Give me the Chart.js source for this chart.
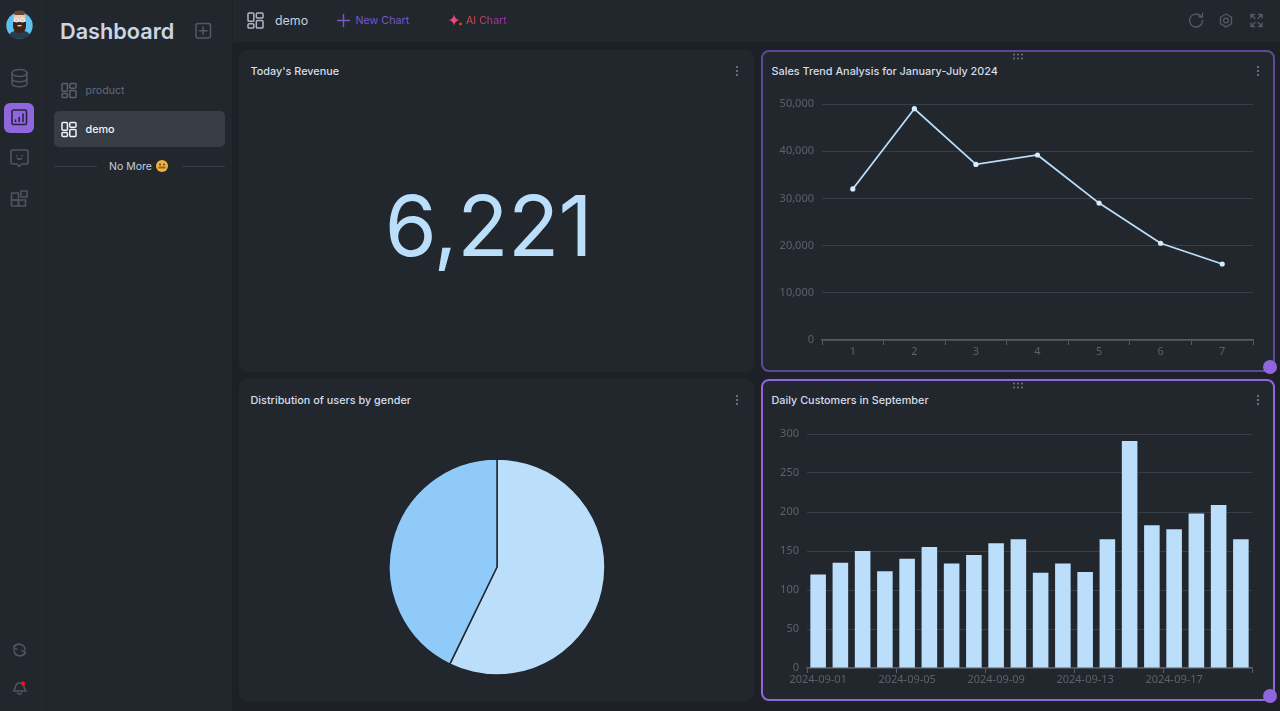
<!DOCTYPE html>
<html>
<head>
<meta charset="utf-8">
<title>Dashboard</title>
<script src="https://cdn.jsdelivr.net/npm/chart.js@4"></script>
<style>
html, body { margin: 0; height: 100%; background: #1d2127; overflow: hidden; font-family: Inter, "Noto Sans", sans-serif; }
.abs { position: absolute; }
.txt { position: absolute; white-space: nowrap; line-height: 1; }
.panel { position: absolute; background: #22272e; }
.card { position: absolute; background: #22272e; border-radius: 8px; box-sizing: border-box; }
.card.soft { border: 2px solid #5b4a93; }
.card.active { border: 2px solid #8f66dd; }
.title { position: absolute; font-size: 10.85px; font-weight: 500; color: #d5deea; white-space: nowrap; line-height: 1; }
.dot { position: absolute; width: 14px; height: 14px; border-radius: 50%; background: #8f66dd; }
canvas { position: absolute; }
svg { position: absolute; overflow: visible; }
</style>
</head>
<body>
<div class="panel" style="left:0;top:0;width:46px;height:711px"></div>
<div class="panel" style="left:47px;top:0;width:185px;height:711px"></div>
<div class="panel" style="left:233px;top:0;width:1047px;height:42px"></div>

<div class="abs" style="left:4px;top:103px;width:30px;height:30px;background:#8f66dd;border-radius:6px"></div>
<div class="abs" style="left:54px;top:111px;width:171px;height:36px;background:#373c45;border-radius:5px"></div>
<div class="abs" style="left:54px;top:165.5px;width:43px;height:1px;background:#373c45"></div>
<div class="abs" style="left:182px;top:165.5px;width:43px;height:1px;background:#373c45"></div>

<div class="txt" style="left:60px;top:20.5px;font-size:21.7px;font-weight:600;color:#ccd6e3">Dashboard</div>
<div class="txt" style="left:85.5px;top:86px;font-size:10.6px;color:#5f6b7c">product</div>
<div class="txt" style="left:85.5px;top:125px;font-size:10.8px;font-weight:500;color:#f2f4f7">demo</div>
<div class="txt" style="left:109px;top:162px;font-size:10.5px;color:#c4ced9">No More</div>
<div class="txt" style="left:275px;top:14.5px;font-size:12.4px;color:#c5d0dd">demo</div>
<div class="txt" style="left:355.5px;top:15.5px;font-size:10.7px;color:#7657cc">New Chart</div>
<div class="txt" style="left:466px;top:15.5px;font-size:10.6px;background:linear-gradient(90deg,#e2502f,#a326c4);-webkit-background-clip:text;background-clip:text;color:transparent">AI Chart</div>

<div class="card" style="left:239px;top:50px;width:515px;height:322px"></div>
<div class="card soft" style="left:761px;top:50px;width:514px;height:322px"></div>
<div class="card" style="left:239px;top:379px;width:515px;height:322px"></div>
<div class="card active" style="left:761px;top:379px;width:514px;height:322px"></div>

<div class="title" style="left:250.5px;top:65.5px">Today's Revenue</div>
<div class="title" style="left:771.5px;top:65.5px">Sales Trend Analysis for January-July 2024</div>
<div class="title" style="left:250.5px;top:394.5px">Distribution of users by gender</div>
<div class="title" style="left:771.5px;top:394.5px">Daily Customers in September</div>

<div class="txt" id="revenue" style="left:231px;width:515px;top:184px;text-align:center;font-size:84px;font-weight:400;letter-spacing:-0.5px;color:#bbdefb"></div>

<canvas id="lineCanvas" style="left:761px;top:80px"></canvas>
<canvas id="pieCanvas" style="left:386.5px;top:457px"></canvas>
<canvas id="barCanvas" style="left:761px;top:410px"></canvas>

<div class="dot" style="left:1263px;top:360px"></div>
<div class="dot" style="left:1263px;top:689px"></div>

<svg id="icons" width="1280" height="711" style="left:0;top:0" fill="none" stroke-linecap="round" stroke-linejoin="round"></svg>

<script>
const revenueToday = 6221;

const months = ["1", "2", "3", "4", "5", "6", "7"];
const monthlySales = [32000, 49000, 37200, 39200, 29000, 20500, 16100];
const salesTicks = [0, 10000, 20000, 30000, 40000, 50000];

const genders = ["Female", "Male"];
const genderShare = [57.2, 42.8];

const days = [
    "2024-09-01", "2024-09-02", "2024-09-03", "2024-09-04", "2024-09-05",
    "2024-09-06", "2024-09-07", "2024-09-08", "2024-09-09", "2024-09-10",
    "2024-09-11", "2024-09-12", "2024-09-13", "2024-09-14", "2024-09-15",
    "2024-09-16", "2024-09-17", "2024-09-18", "2024-09-19", "2024-09-20"
];
const dailyCustomers = [120, 135, 150, 124, 140, 155, 134, 145, 160, 165, 122, 134, 123, 165, 291, 183, 178, 198, 209, 165];

const lightBlue = "#bbdefb";
const midBlue = "#90caf9";
const gridColor = "#393d45";
const axisColor = "#585c63";
const labelColor = "#5d6168";
const tickFont = { family: "'Noto Sans'", size: 11 };

document.querySelector("#revenue").textContent = revenueToday.toLocaleString("en-US");

function sizeCanvas(el, w, h) {
    el.width = w;
    el.height = h;
    el.style.width = w + "px";
    el.style.height = h + "px";
}

// fixes the axis box so the plot lands where the reference has it
function fixBox(size) {
    return (scale) => {
        if (scale.isHorizontal()) {
            scale.height = size;
        } else {
            scale.width = size;
        }
        scale.paddingLeft = scale.paddingRight = scale.paddingTop = scale.paddingBottom = 0;
    };
}

const lineEl = document.getElementById("lineCanvas");
sizeCanvas(lineEl, 514, 290);
new Chart(lineEl, {
    type: "line",
    data: {
        labels: months,
        datasets: [{
            data: monthlySales,
            borderColor: lightBlue,
            backgroundColor: "#d6ecfd",
            borderWidth: 1.8,
            pointRadius: 2.6,
            pointBorderWidth: 0,
            tension: 0
        }]
    },
    options: {
        responsive: false,
        animation: false,
        layout: { padding: { left: 10, right: 22, top: 24, bottom: 6 } },
        plugins: { legend: { display: false }, tooltip: { enabled: false } },
        scales: {
            x: {
                offset: true,
                afterFit: fixBox(24),
                grid: { offset: true, drawOnChartArea: false, tickLength: 5, tickColor: axisColor, tickWidth: 1 },
                border: { color: axisColor, width: 1.5 },
                ticks: { color: labelColor, font: tickFont, padding: 0, maxRotation: 0 }
            },
            y: {
                min: 0,
                max: 50000,
                afterFit: fixBox(51),
                afterBuildTicks: (scale) => { scale.ticks = salesTicks.map(value => ({ value })); },
                grid: { color: gridColor, drawTicks: false, tickLength: 0 },
                border: { display: false },
                ticks: {
                    color: labelColor,
                    font: tickFont,
                    padding: 8,
                    callback: (value) => value.toLocaleString("en-US")
                }
            }
        }
    }
});

const pieEl = document.getElementById("pieCanvas");
sizeCanvas(pieEl, 220, 220);
new Chart(pieEl, {
    type: "pie",
    data: {
        labels: genders,
        datasets: [{
            data: genderShare,
            backgroundColor: [lightBlue, midBlue],
            borderColor: "#22272e",
            borderWidth: 1.5,
            radius: 108
        }]
    },
    options: {
        responsive: false,
        animation: false,
        plugins: { legend: { display: false }, tooltip: { enabled: false } }
    }
});

const barEl = document.getElementById("barCanvas");
sizeCanvas(barEl, 514, 290);
new Chart(barEl, {
    type: "bar",
    data: {
        labels: days,
        datasets: [{
            data: dailyCustomers,
            backgroundColor: lightBlue,
            borderWidth: 0,
            barPercentage: 0.7,
            categoryPercentage: 1
        }]
    },
    options: {
        responsive: false,
        animation: false,
        layout: { padding: { left: 8, right: 23, top: 24, bottom: 8 } },
        plugins: { legend: { display: false }, tooltip: { enabled: false } },
        scales: {
            x: {
                afterFit: fixBox(24),
                grid: {
                    offset: true,
                    drawOnChartArea: false,
                    tickLength: 5,
                    tickWidth: 1,
                    tickColor: (c) => (c.index === undefined || c.index % 4 === 0) ? axisColor : "transparent"
                },
                border: { color: axisColor, width: 1.5 },
                ticks: {
                    color: labelColor,
                    font: tickFont,
                    padding: 0,
                    autoSkip: false,
                    maxRotation: 0,
                    callback: function (value, index) { return index % 4 === 0 ? this.getLabelForValue(value) : ""; }
                }
            },
            y: {
                min: 0,
                max: 300,
                afterFit: fixBox(38),
                grid: { color: gridColor, drawTicks: false, tickLength: 0 },
                border: { display: false },
                ticks: { color: labelColor, font: tickFont, padding: 8, stepSize: 50 }
            }
        }
    }
});

// ---- interface icons ----
function grid(x, y, s, color, w) {
    const u = s / 18;
    const r = (a, b, c, d) => `<rect x="${x + a * u}" y="${y + b * u}" width="${c * u}" height="${d * u}" rx="${1.3 * u}" stroke="${color}" stroke-width="${w}"/>`;
    return r(0, 0, 7, 10) + r(10, 0, 8, 6) + r(0, 13, 7, 5) + r(10, 9, 8, 9);
}
function dots(cx, cy, color) {
    return [-4, 0, 4].map(d => `<circle cx="${cx}" cy="${cy + d}" r="1.1" fill="${color}"/>`).join("");
}
function handle(cx, cy) {
    let out = "";
    [-4, 0, 4].forEach(dx => [-2, 2].forEach(dy => { out += `<circle cx="${cx + dx}" cy="${cy + dy}" r="0.9" fill="#7b8089"/>`; }));
    return out;
}
const railColor = "#4d5560";
document.getElementById("icons").innerHTML = `
    <clipPath id="faceClip"><path d="M6 0 H33 V25.5 A13.2 13.2 0 0 1 6.3 25.5Z"/></clipPath>
    <circle cx="19.5" cy="25.5" r="13.2" fill="#5cc3f0"/>
    <g clip-path="url(#faceClip)">
        <path d="M8 38 Q10 31 15 31 H24 Q29 31 31 38 V42 H8Z" fill="#2a3b4c"/>
        <rect x="13.5" y="14" width="12" height="12" rx="3" fill="#e9c6ae"/>
        <path d="M13 22 h13 v5 q-1 6 -6.5 6 q-5.500 0 -6.500 -6Z" fill="#3a2418"/>
        <rect x="17.500" y="25" width="4" height="1.400" fill="#e9c6ae"/>
        <path d="M14.500 15 V11.500 Q19.500 9.500 24.500 11.500 V15Z" fill="#6d4230"/>
    </g>
    <circle cx="16.600" cy="20" r="2.100" stroke="#eef2f5" stroke-width="0.900"/>
    <circle cx="22.400" cy="20" r="2.100" stroke="#eef2f5" stroke-width="0.900"/>

    <g stroke="${railColor}" stroke-width="1.6">
        <ellipse cx="19.500" cy="73" rx="7.500" ry="3.500"/>
        <path d="M12 73 v10 c0 5 15 5 15 0 v-10 M12 78 c0 5 15 5 15 0"/>
        <path d="M12.500 150 h14 a1.500 1.500 0 0 1 1.500 1.500 v11 a1.500 1.500 0 0 1 -1.500 1.500 h-5 l-2.500 2.500 l-2 -2.500 h-4.500 a1.500 1.500 0 0 1 -1.500 -1.500 v-11 a1.500 1.500 0 0 1 1.500 -1.500z"/>
        <path d="M17 155.500 v.5 M22 155.500 v.5 M17.500 158.500 q2 1.400 4 0"/>
        <rect x="11.500" y="193" width="7" height="7"/><rect x="11.500" y="200" width="7" height="6"/><rect x="18.500" y="200" width="7" height="6"/><rect x="21" y="191" width="6" height="6"/>
        <path d="M25 649 a6 6 0 0 0 -11 -2 M14 646 v3 h3 M14 651 a6 6 0 0 0 11 2 M25 654 v-3 h-3"/>
        <path d="M13.500 691 q2 -2 2 -5 a4.500 4.500 0 0 1 8 -1 q.5 3 2.500 6 z M17.500 693 a2.200 2.200 0 0 0 4 0"/>
    </g>
    <circle cx="23" cy="683.500" r="2" fill="#ff1010"/>

    <rect x="12" y="110" width="14.500" height="14.500" rx="1.500" stroke="#2a2340" stroke-width="1.600"/>
    <path d="M15.500 121.500 v-1.500 M19.200 121.500 v-4 M23 121.500 v-7.500" stroke="#2a2340" stroke-width="1.600"/>

    <rect x="196" y="23.500" width="14.500" height="14.500" rx="2" stroke="#535a64" stroke-width="1.500"/>
    <path d="M203.200 27 v7.500 M199.500 30.800 h7.500" stroke="#535a64" stroke-width="1.500"/>
    ${grid(62, 83.500, 14, "#59616c", 1.500)}
    ${grid(62, 122.500, 14, "#f2f4f7", 1.500)}
    <circle cx="162" cy="166" r="6" fill="#f3b23c"/>
    <rect x="158.500" y="166.500" width="7" height="2" fill="#8a6a2a"/>
    <circle cx="160" cy="164.500" r="1" fill="#5a4020"/><circle cx="164" cy="164.500" r="1" fill="#5a4020"/>

    ${grid(248, 13, 15, "#aeb8c4", 1.500)}
    <path d="M337.500 20.500 h12 M343.500 14.500 v12" stroke="#7657cc" stroke-width="1.400"/>
    <path d="M454 14.500 q1 5 5.500 5.500 q-4.500 .5 -5.500 5.500 q-1 -5 -5.500 -5.500 q4.500 -.5 5.500 -5.500z" fill="#f0487a" stroke="none"/>
    <path d="M460.500 22 q.3 1.700 2 2 q-1.700 .3 -2 2 q-.3 -1.700 -2 -2 q1.700 -.3 2 -2z" fill="#e2502f" stroke="none"/>

    <g stroke="#555b64" stroke-width="1.300">
        <path d="M1202.500 20.500 a6.500 6.500 0 1 1 -2 -4.700 M1202.500 13.500 v3.500 h-3.500"/>
        <circle cx="1226" cy="20.500" r="2.400"/>
        <path d="M1226 14 l5.500 3.200 v6.500 l-5.500 3.200 l-5.500 -3.200 v-6.500z"/>
        <path d="M1251 18 v-3.500 h3.500 M1251 14.500 l4 4 M1262 18 v-3.500 h-3.500 M1262 14.500 l-4 4 M1251 23 v3.500 h3.500 M1251 26.500 l4 -4 M1262 23 v3.500 h-3.500 M1262 26.500 l-4 -4"/>
    </g>

    ${dots(737, 71, "#7b8089")}
    ${dots(1258, 71, "#7b8089")}
    ${dots(737, 400, "#7b8089")}
    ${dots(1258, 400, "#7b8089")}
    ${handle(1018, 56.500)}
    ${handle(1018, 385.500)}
`;
</script>
</body>
</html>
